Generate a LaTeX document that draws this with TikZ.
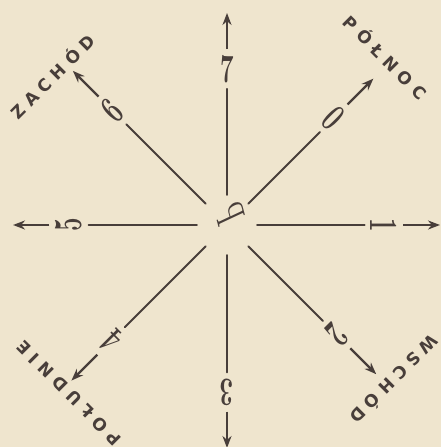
\documentclass[tikz,border=0pt]{standalone}
\usepackage{fontspec}
\newfontfamily\lblfont{DejaVu Sans}
\usetikzlibrary{arrows.meta,calc}
\definecolor{paper}{RGB}{239,229,206}
\definecolor{ink}{RGB}{72,62,58}
\newcommand\lsp{\kern6pt}
\begin{document}
\begin{tikzpicture}[x=1pt,y=1pt,
  ray/.style={draw=ink,line width=1.9pt,line cap=round},
  arr/.style={draw=ink,line width=2.4pt,-{Stealth[length=12pt,width=9pt]}},
  dig/.style={text=ink,inner sep=0pt,font=\fontsize{40}{40}\selectfont\bfseries},
  lbl/.style={text=ink,inner sep=0pt,font=\lblfont\fontsize{17}{17}\selectfont\bfseries}]
\useasboundingbox[fill=paper] (0,0) rectangle (441,447);
\coordinate (C) at (227,222);
\node[text=ink,inner sep=0pt,font=\fontsize{30}{30}\selectfont\itshape,rotate=-75] (P) at (231,231) {\scalebox{-1}[1.4]{P}};
\foreach \a/\d/\r in {0/1/157,45/0/151,90/7/156,135/6/162,180/5/158,225/4/164,270/3/167,315/2/155}{
  \coordinate (s\d) at ($(C)+(\a:30)$);
  \coordinate (t\d) at ($(C)+(\a:{\r+56})$);
  \node[dig,rotate=\a-90] (n\d) at ($(C)+(\a:\r)$) {\scalebox{0.6}[1]{\d}};
  \draw[ray,shorten >=6pt] (s\d) -- (n\d.south);
  \draw[arr,shorten <=6pt] (n\d.north) -- (t\d);
}
\node[lbl,rotate=-45] (north) at (386,390) {P\lsp Ó\lsp Ł\lsp N\lsp O\lsp C};
\node[lbl,rotate=45] (west) at (52,371) {Z\lsp A\lsp C\lsp H\lsp Ó\lsp D};
\node[lbl,rotate=225] (east) at (395,67) {W\lsp S\lsp C\lsp H\lsp Ó\lsp D};
\node[lbl,rotate=135] (south) at (69,54) {P\lsp O\lsp Ł\lsp U\lsp D\lsp N\lsp I\lsp E};
\end{tikzpicture}
\end{document}
